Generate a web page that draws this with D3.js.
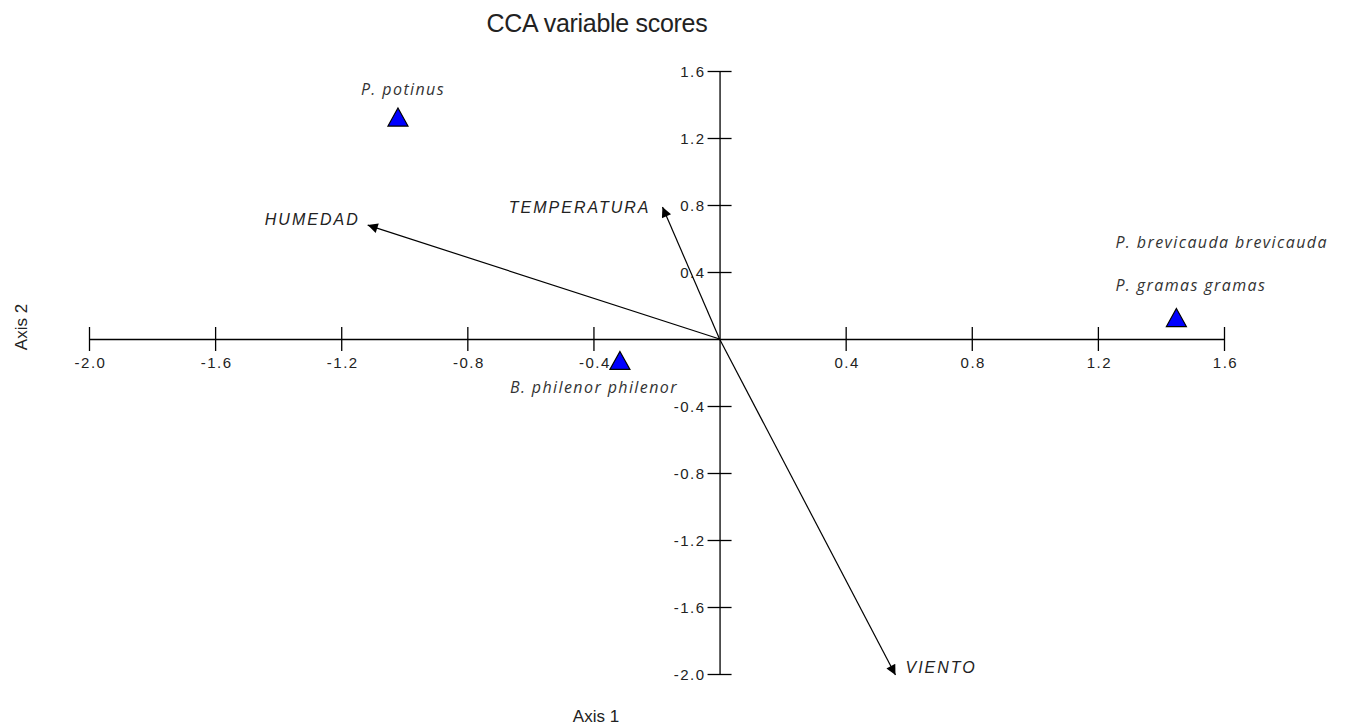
<!DOCTYPE html>
<html><head><meta charset="utf-8">
<script src="https://cdn.jsdelivr.net/npm/d3@7"></script>
<style>body{margin:0;background:#fff;} text{font-family:"Liberation Sans",Arial,sans-serif;}</style>
</head><body>
<svg id="c" width="1349" height="725"></svg>
<script>
const xTicks = [-2.0,-1.6,-1.2,-0.8,-0.4,0.4,0.8,1.2,1.6];
const yTicks = [1.6,1.2,0.8,0.4,-0.4,-0.8,-1.2,-1.6,-2.0];
const speciesNames = ["P. potinus","B. philenor philenor","P. gramas gramas"];
const speciesX = [-1.02,-0.316,1.449];
const speciesY = [1.325,-0.128,0.128];
const extraLabel = "P. brevicauda brevicauda";
const varNames = ["HUMEDAD","TEMPERATURA","VIENTO"];
const varX = [-1.116,-0.181,0.558];
const varY = [0.68,0.788,-2.006];

const svg = d3.select("#c");
const x = d3.scaleLinear().domain([-2,1.6]).range([89,1224]);
const y = d3.scaleLinear().domain([-2,1.6]).range([674,71]);
const fmt = d => d.toFixed(1);

svg.append("defs").append("marker").attr("id","ah")
  .attr("viewBox","0 0 10 10").attr("refX",10).attr("refY",5)
  .attr("markerWidth",15).attr("markerHeight",10).attr("markerUnits","userSpaceOnUse")
  .attr("orient","auto")
  .append("path").attr("d","M0,0L10,5L0,10z").attr("fill","#000");

// axes through origin
const xAxis = d3.axisBottom(x).tickValues(xTicks).tickFormat(fmt).tickSize(0);
const gx = svg.append("g").attr("transform",`translate(0,${y(0)})`).call(xAxis);
gx.attr("font-family",null).attr("font-size",null);
gx.select(".domain").attr("stroke","#000").attr("stroke-width",1.3);
gx.selectAll(".tick line").attr("y1",-12).attr("y2",12).attr("stroke","#000").attr("stroke-width",1.3);
gx.selectAll(".tick text").attr("y",18).attr("dy","0.71em").attr("font-size",15).attr("fill","#222")
  .attr("letter-spacing",1.5).attr("dx",1);

const yAxis = d3.axisLeft(y).tickValues(yTicks).tickFormat(fmt).tickSize(0);
const gy = svg.append("g").attr("transform",`translate(${x(0)},0)`).call(yAxis);
gy.attr("font-family",null).attr("font-size",null);
gy.select(".domain").attr("stroke","#000").attr("stroke-width",1.3);
gy.selectAll(".tick line").attr("x1",-12).attr("x2",12).attr("stroke","#000").attr("stroke-width",1.3);
gy.selectAll(".tick text").attr("x",-14).attr("dy","0.35em").attr("font-size",15).attr("fill","#222")
  .attr("letter-spacing",1.5);

// arrows
svg.selectAll("line.arr").data(varNames).enter().append("line").attr("class","arr")
  .attr("x1",x(0)).attr("y1",y(0))
  .attr("x2",(d,i)=>x(varX[i])).attr("y2",(d,i)=>y(varY[i]))
  .attr("stroke","#000").attr("stroke-width",1.2).attr("marker-end","url(#ah)");

const varLabelOff = [[-8,0,"end"],[-12,6,"end"],[10,-2,"start"]];
svg.selectAll("text.var").data(varNames).enter().append("text").attr("class","var")
  .attr("x",(d,i)=>x(varX[i])+varLabelOff[i][0])
  .attr("y",(d,i)=>y(varY[i])+varLabelOff[i][1])
  .attr("text-anchor",(d,i)=>varLabelOff[i][2])
  .attr("font-size",16).attr("font-style","italic").attr("letter-spacing",2)
  .attr("fill","#222").text(d=>d);

// species triangles (custom triangle symbol, 20 wide x 18 tall)
const triType = {draw(ctx,size){ ctx.moveTo(0,-9); ctx.lineTo(10,9); ctx.lineTo(-10,9); ctx.closePath(); }};
const tri = d3.symbol().type(triType);
svg.selectAll("path.sp").data(speciesNames).enter().append("path").attr("class","sp")
  .attr("transform",(d,i)=>`translate(${x(speciesX[i])},${y(speciesY[i])})`)
  .attr("d",tri).attr("fill","#0000ff").attr("stroke","#000").attr("stroke-width",1.2);

const spLab = [[5,-22,"middle"],[58,33,"end"],[-61,-27,"start"]];
svg.selectAll("text.sp").data(speciesNames).enter().append("text").attr("class","sp")
  .attr("x",(d,i)=>x(speciesX[i])+spLab[i][0])
  .attr("y",(d,i)=>y(speciesY[i])+spLab[i][1])
  .attr("text-anchor",(d,i)=>spLab[i][2])
  .attr("font-size",16).attr("font-style","italic").attr("fill","#333").attr("letter-spacing",1.4)
  .style("font-family","'Open Sans', sans-serif").text(d=>d);
svg.append("text").attr("x",x(speciesX[2])-61).attr("y",y(speciesY[2])-70)
  .attr("font-size",16).attr("font-style","italic").attr("fill","#333").attr("letter-spacing",1.4)
  .style("font-family","'Open Sans', sans-serif").text(extraLabel);

// titles
svg.append("text").attr("x",597).attr("y",32).attr("text-anchor","middle")
  .attr("font-size",25).attr("fill","#222").attr("letter-spacing",-0.3).text("CCA variable scores");
svg.append("text").attr("x",596).attr("y",722).attr("text-anchor","middle")
  .attr("font-size",17).attr("fill","#222").text("Axis 1");
svg.append("text").attr("transform","translate(27,327) rotate(-90)").attr("text-anchor","middle")
  .attr("font-size",17).attr("fill","#222").text("Axis 2");
</script>
</body></html>
